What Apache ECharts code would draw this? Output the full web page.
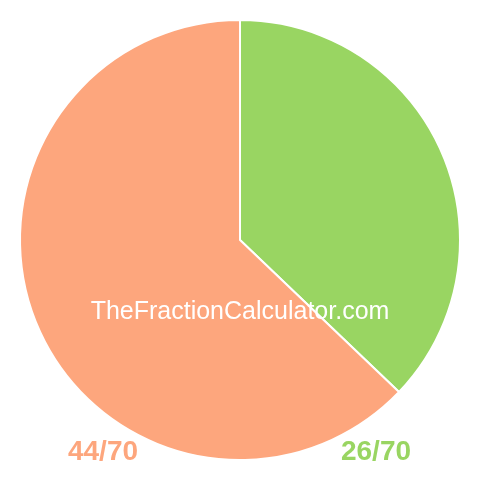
<!DOCTYPE html>
<html>
<head>
<meta charset="utf-8">
<title>Fraction pie</title>
<script src="https://cdn.jsdelivr.net/npm/echarts@6/dist/echarts.min.js"></script>
<style>
  html, body { margin: 0; padding: 0; background: #fff; }
  #main { width: 480px; height: 480px; }
</style>
</head>
<body>
<div id="main"></div>
<script>
var parts = [26, 44];
var whole = 70;
var partColors = ['#99d562', '#fda67d'];
var labelX = [376, 103];

var chart = echarts.init(document.getElementById('main'));

var seriesData = parts.map(function (v, i) {
  return { value: v, name: v + '/' + whole, itemStyle: { color: partColors[i] } };
});

var labels = parts.map(function (v, i) {
  return {
    type: 'text',
    x: labelX[i],
    y: 452,
    z: 100,
    style: {
      text: v + '/' + whole,
      fill: partColors[i],
      font: 'bold 28px "Liberation Sans", Arial, sans-serif',
      align: 'center',
      verticalAlign: 'middle'
    }
  };
});

chart.setOption({
  animation: false,
  series: [{
    type: 'pie',
    center: [240, 240],
    radius: [0, 220],
    startAngle: 90,
    clockwise: true,
    label: { show: false },
    labelLine: { show: false },
    itemStyle: { borderColor: '#fff', borderWidth: 2 },
    emphasis: { disabled: true },
    data: seriesData
  }],
  graphic: labels.concat([{
    type: 'text',
    x: 240,
    y: 312,
    z: 100,
    style: {
      text: 'TheFractionCalculator.com',
      fill: '#fff',
      font: '25px "Liberation Sans", Arial, sans-serif',
      align: 'center',
      verticalAlign: 'middle'
    }
  }])
});
</script>
</body>
</html>
